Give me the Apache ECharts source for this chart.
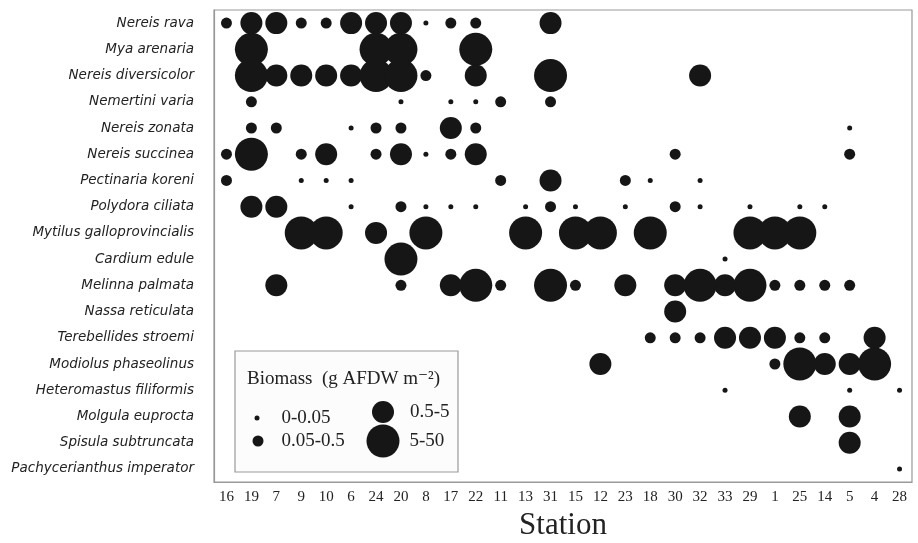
<!DOCTYPE html>
<html>
<head>
<meta charset="utf-8">
<script src="https://cdn.jsdelivr.net/npm/echarts@6/dist/echarts.min.js"></script>
<style>
    html, body {margin: 0; padding: 0; background: #fff;}
    #chart {width: 918px; height: 543px;}
</style>
</head>
<body>
<div id="chart"></div>
<script>
const stations = ['16', '19', '7', '9', '10', '6', '24', '20', '8', '17', '22', '11', '13', '31',
    '15', '12', '23', '18', '30', '32', '33', '29', '1', '25', '14', '5', '4', '28'];

const species = ['Nereis rava', 'Mya arenaria', 'Nereis diversicolor', 'Nemertini varia', 'Nereis zonata',
    'Nereis succinea', 'Pectinaria koreni', 'Polydora ciliata', 'Mytilus galloprovincialis', 'Cardium edule',
    'Melinna palmata', 'Nassa reticulata', 'Terebellides stroemi', 'Modiolus phaseolinus',
    'Heteromastus filiformis', 'Molgula euprocta', 'Spisula subtruncata', 'Pachycerianthus imperator'];

// biomass classes: 0 = 0-0.05, 1 = 0.05-0.5, 2 = 0.5-5, 3 = 5-50
const classLabels = ['0-0.05', '0.05-0.5', '0.5-5', '5-50'];

// [station, class] for each species
const nereisRava = [['16', 1], ['19', 2], ['7', 2], ['9', 1], ['10', 1], ['6', 2], ['24', 2], ['20', 2], ['8', 0], ['17', 1], ['22', 1], ['31', 2]];
const myaArenaria = [['19', 3], ['24', 3], ['20', 3], ['22', 3]];
const nereisDiversicolor = [['19', 3], ['7', 2], ['9', 2], ['10', 2], ['6', 2], ['24', 3], ['20', 3], ['8', 1], ['22', 2], ['31', 3], ['32', 2]];
const nemertiniVaria = [['19', 1], ['20', 0], ['17', 0], ['22', 0], ['11', 1], ['31', 1]];
const nereisZonata = [['19', 1], ['7', 1], ['6', 0], ['24', 1], ['20', 1], ['17', 2], ['22', 1], ['5', 0]];
const nereisSuccinea = [['16', 1], ['19', 3], ['9', 1], ['10', 2], ['24', 1], ['20', 2], ['8', 0], ['17', 1], ['22', 2], ['30', 1], ['5', 1]];
const pectinariaKoreni = [['16', 1], ['9', 0], ['10', 0], ['6', 0], ['11', 1], ['31', 2], ['23', 1], ['18', 0], ['32', 0]];
const polydoraCiliata = [['19', 2], ['7', 2], ['6', 0], ['20', 1], ['8', 0], ['17', 0], ['22', 0], ['13', 0], ['31', 1], ['15', 0], ['23', 0], ['30', 1], ['32', 0], ['29', 0], ['25', 0], ['14', 0]];
const mytilusGalloprovincialis = [['9', 3], ['10', 3], ['24', 2], ['8', 3], ['13', 3], ['15', 3], ['12', 3], ['18', 3], ['29', 3], ['1', 3], ['25', 3]];
const cardiumEdule = [['20', 3], ['33', 0]];
const melinnaPalmata = [['7', 2], ['20', 1], ['17', 2], ['22', 3], ['11', 1], ['31', 3], ['15', 1], ['23', 2], ['30', 2], ['32', 3], ['33', 2], ['29', 3], ['1', 1], ['25', 1], ['14', 1], ['5', 1]];
const nassaReticulata = [['30', 2]];
const terebellidesStroemi = [['18', 1], ['30', 1], ['32', 1], ['33', 2], ['29', 2], ['1', 2], ['25', 1], ['14', 1], ['4', 2]];
const modiolusPhaseolinus = [['12', 2], ['1', 1], ['25', 3], ['14', 2], ['5', 2], ['4', 3]];
const heteromastusFiliformis = [['33', 0], ['5', 0], ['28', 0]];
const molgulaEuprocta = [['25', 2], ['5', 2]];
const spisulaSubtruncata = [['5', 2]];
const pachycerianthusImperator = [['28', 0]];

const records = [nereisRava, myaArenaria, nereisDiversicolor, nemertiniVaria, nereisZonata, nereisSuccinea,
    pectinariaKoreni, polydoraCiliata, mytilusGalloprovincialis, cardiumEdule, melinnaPalmata, nassaReticulata,
    terebellidesStroemi, modiolusPhaseolinus, heteromastusFiliformis, molgulaEuprocta, spisulaSubtruncata,
    pachycerianthusImperator];

const dotSizes = [5, 11, 22, 33];
const dotColor = '#161616';
const serif = '"Liberation Serif", "DejaVu Serif", serif';

// one series per biomass class
const series = classLabels.map((label, c) => ({
    name: label,
    type: 'scatter',
    symbol: 'circle',
    symbolSize: dotSizes[c],
    itemStyle: {color: dotColor, opacity: 1},
    z: 2 + (3 - c),
    silent: true,
    data: records.flatMap((rows, s) => rows.filter(r => r[1] === c).map(r => [r[0], species[s]]))
}));

// legend, one component per class so each icon keeps its own size
const legendSpots = [
    {left: 254.5, top: 408, pad: 17},
    {left: 252.5, top: 431, pad: 13},
    {left: 372, top: 401, pad: 11},
    {left: 366.5, top: 424.5, pad: 5}
];
const legends = classLabels.map((label, c) => ({
    data: [{name: label, icon: 'circle'}],
    left: legendSpots[c].left,
    top: legendSpots[c].top,
    padding: 0,
    itemWidth: dotSizes[c],
    itemHeight: dotSizes[c],
    selectedMode: false,
    z: 10,
    itemStyle: {color: dotColor, opacity: 1},
    textStyle: {
        fontFamily: serif,
        fontSize: 19,
        color: '#222',
        lineHeight: 20,
        padding: [0, 0, 0, legendSpots[c].pad]
    }
}));

const chart = echarts.init(document.getElementById('chart'), null, {renderer: 'canvas'});
chart.setOption({
    animation: false,
    backgroundColor: '#fff',
    grid: {
        left: 214, right: 6, top: 10, bottom: 61,
        outerBoundsMode: 'none',
        containLabel: false,
        show: true,
        borderColor: '#999',
        borderWidth: 1.2,
        backgroundColor: 'transparent'
    },
    legend: legends,
    xAxis: {
        type: 'category',
        data: stations,
        boundaryGap: true,
        name: 'Station',
        nameLocation: 'middle',
        nameGap: 26,
        nameTextStyle: {fontFamily: serif, fontSize: 31, color: '#222'},
        axisLine: {lineStyle: {color: '#999', width: 1.2}},
        axisTick: {alignWithLabel: true, length: 5, lineStyle: {color: '#999'}},
        axisLabel: {fontFamily: serif, fontSize: 15, color: '#222', margin: 8, interval: 0},
        splitLine: {show: false}
    },
    yAxis: {
        type: 'category',
        data: species,
        inverse: true,
        boundaryGap: true,
        axisLine: {lineStyle: {color: '#999', width: 1.2}},
        axisTick: {alignWithLabel: true, length: 5, lineStyle: {color: '#999'}},
        axisLabel: {
            fontFamily: '"DejaVu Sans", sans-serif',
            fontStyle: 'italic',
            fontSize: 13.5,
            color: '#222',
            margin: 20,
            interval: 0
        },
        splitLine: {show: false}
    },
    graphic: [
        {
            type: 'rect',
            z: 5,
            shape: {x: 235, y: 351, width: 223, height: 121},
            style: {fill: '#fcfcfc', stroke: '#999', lineWidth: 1.2}
        },
        {
            type: 'text',
            z: 6,
            left: 247,
            top: 370,
            style: {
                text: 'Biomass  (g AFDW m\u207B\u00B2)',
                font: '19px ' + serif,
                fill: '#222'
            }
        }
    ],
    series: series
});
</script>
</body>
</html>
